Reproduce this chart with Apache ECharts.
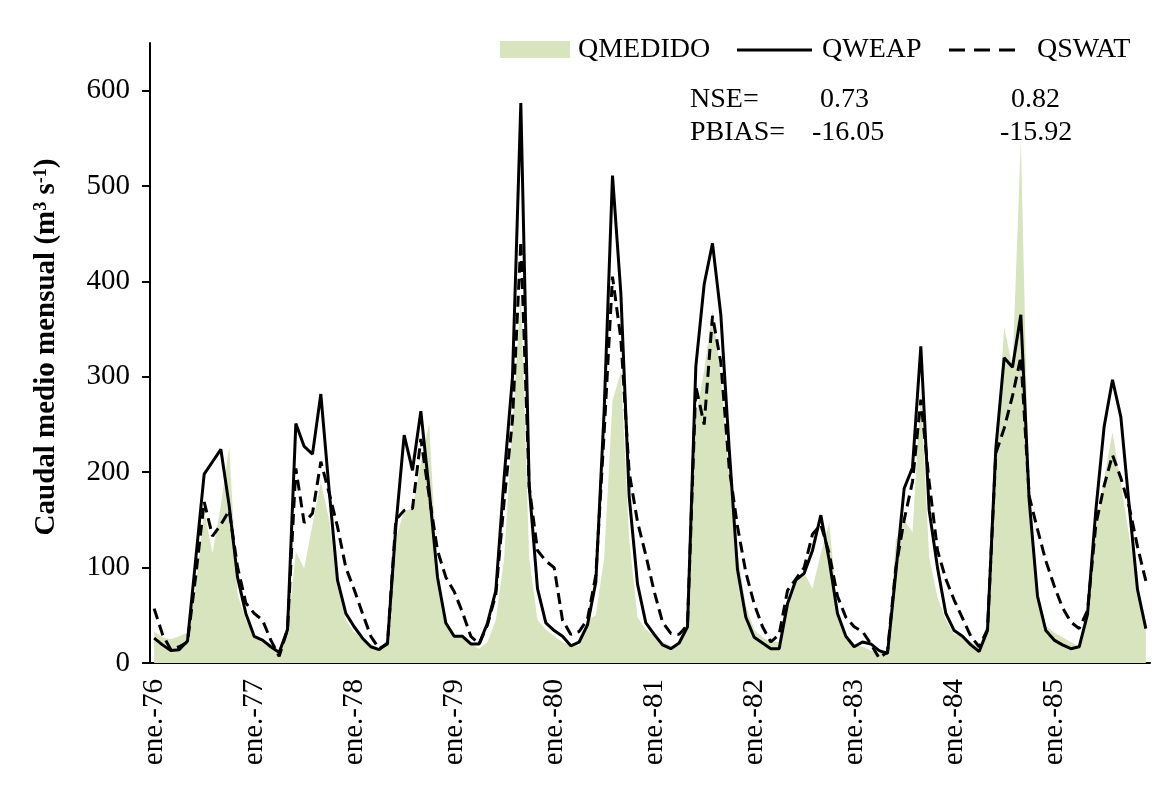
<!DOCTYPE html>
<html>
<head>
<meta charset="utf-8">
<script src="https://cdn.jsdelivr.net/npm/echarts@6/dist/echarts.min.js"></script>
<style>
  html, body { margin: 0; padding: 0; background: #ffffff; }
  #chart { width: 1166px; height: 810px; }
</style>
</head>
<body>
<div id="chart"></div>
<script>
// ---- data ----
const months = ['ene.', 'feb.', 'mar.', 'abr.', 'may.', 'jun.', 'jul.', 'ago.', 'sep.', 'oct.', 'nov.', 'dic.'];
const years = ['76', '77', '78', '79', '80', '81', '82', '83', '84', '85'];
const yTicks = [0, 100, 200, 300, 400, 500, 600];
const seriesNames = ['QMEDIDO', 'QWEAP', 'QSWAT'];

const qmedido = [
  33, 27, 25, 28, 32, 80, 160, 115, 165, 227, 72, 45,
  28, 22, 18, 10, 30, 117, 99, 145, 190, 150, 80, 45,
  32, 26, 20, 15, 20, 130, 160, 162, 210, 251, 90, 45,
  30, 26, 20, 15, 22, 45, 110, 250, 385, 110, 45, 35,
  28, 22, 18, 18, 45, 50, 110, 275, 305, 130, 48, 35,
  28, 22, 18, 18, 40, 258, 307, 370, 300, 195, 115, 60,
  35, 27, 22, 22, 59, 90, 94, 78, 115, 147, 56, 30,
  20, 17, 13, 10, 12, 129, 150, 137, 285, 111, 69, 45,
  30, 28, 22, 17, 43, 220, 352, 310, 548, 165, 78, 39,
  32, 27, 22, 17, 51, 137, 194, 242, 189, 133, 78, 36
];
const qweap = [
  26, 19, 13, 14, 23, 110, 198, 211, 224, 165, 90, 52,
  28, 24, 17, 11, 35, 251, 227, 219, 282, 181, 87, 52,
  38, 26, 17, 14, 21, 143, 239, 202, 264, 181, 90, 42,
  28, 28, 20, 20, 42, 76, 195, 300, 587, 186, 78, 42,
  34, 28, 18, 22, 40, 85, 265, 511, 388, 175, 83, 42,
  30, 19, 15, 21, 38, 311, 397, 440, 365, 225, 98, 48,
  27, 21, 15, 15, 62, 87, 94, 118, 155, 108, 52, 28,
  17, 22, 20, 13, 10, 95, 183, 205, 332, 160, 100, 52,
  34, 28, 19, 12, 34, 225, 320, 310, 365, 171, 70, 34,
  24, 19, 15, 17, 51, 160, 248, 297, 258, 165, 77, 36
];
const qswat = [
  57, 30, 14, 17, 22, 92, 169, 133, 145, 160, 101, 63,
  52, 45, 24, 7, 35, 204, 147, 157, 211, 178, 143, 100,
  77, 52, 28, 15, 20, 150, 160, 162, 235, 175, 118, 90,
  75, 53, 28, 20, 40, 72, 170, 255, 442, 185, 118, 107,
  100, 45, 30, 33, 46, 92, 242, 405, 340, 200, 148, 113,
  75, 43, 31, 30, 40, 290, 250, 364, 315, 205, 143, 95,
  62, 38, 22, 30, 76, 88, 100, 135, 145, 115, 70, 48,
  38, 33, 20, 5, 12, 100, 150, 190, 276, 190, 118, 88,
  66, 47, 28, 17, 35, 220, 246, 280, 321, 175, 140, 107,
  81, 58, 43, 36, 55, 145, 186, 218, 194, 164, 122, 86
];

const nseLabel = 'NSE=';
const pbiasLabel = 'PBIAS=';
const nseValues = ['0.73', '0.82'];
const pbiasValues = ['-16.05', '-15.92'];

const categories = [];
years.forEach(y => months.forEach(m => categories.push(m + '-' + y)));

// ---- chart ----
const FONT = '"Liberation Serif", "Times New Roman", serif';
const GREEN = '#d7e4bd';
const chart = echarts.init(document.getElementById('chart'), null, { renderer: 'canvas' });

function txt(x, y, s, size) {
  return { type: 'text', x: x, y: y, z: 10,
    style: { text: s, font: (size || 28) + 'px ' + FONT, fill: '#000', textVerticalAlign: 'middle' } };
}

const option = {
  backgroundColor: '#ffffff',
  animation: false,
  grid: { left: 150, right: 16, top: 43, bottom: 147, containLabel: false },
  xAxis: [
    {
      type: 'category', data: categories, boundaryGap: true,
      axisLine: { lineStyle: { color: '#000', width: 2 } },
      axisTick: { interval: 5, length: 8, lineStyle: { color: '#000', width: 2 } },
      axisLabel: { interval: 11, rotate: 90, margin: 16, fontFamily: FONT, fontSize: 29, color: '#000' },
      splitLine: { show: false }
    },
    {
      type: 'category', data: categories, boundaryGap: true, position: 'bottom', offset: 0,
      axisLine: { show: false },
      axisTick: { inside: true, interval: 5, length: 7, lineStyle: { color: '#000', width: 2 } },
      axisLabel: { show: false },
      splitLine: { show: false }
    }
  ],
  yAxis: {
    type: 'value', min: 0, max: 650,
    axisLine: { show: true, lineStyle: { color: '#000', width: 2 } },
    axisTick: { show: true, length: 8, customValues: yTicks, lineStyle: { color: '#000', width: 2 } },
    axisLabel: { customValues: yTicks, margin: 20, fontFamily: FONT, fontSize: 29, color: '#000' },
    splitLine: { show: false }
  },
  series: [
    {
      name: seriesNames[0], type: 'line', data: qmedido, symbol: 'none', z: 1,
      lineStyle: { width: 0, color: GREEN },
      itemStyle: { color: GREEN },
      areaStyle: { color: GREEN, opacity: 1 }
    },
    {
      name: seriesNames[1], type: 'line', data: qweap, symbol: 'none', z: 3,
      itemStyle: { color: '#000' },
      lineStyle: { color: '#000', width: 3 }
    },
    {
      name: seriesNames[2], type: 'line', data: qswat, symbol: 'none', z: 2,
      itemStyle: { color: '#000' },
      lineStyle: { color: '#000', width: 3, type: [11, 6] }
    }
  ],
  graphic: [
    {
      type: 'text', x: 47, y: 347, rotation: Math.PI / 2,
      style: {
        text: '{a|Caudal medio mensual (m}{s|3}{a| s}{s|-1}{a|)}',
        textAlign: 'center', textVerticalAlign: 'middle',
        rich: {
          a: { fontFamily: FONT, fontSize: 29, fontWeight: 'bold', fill: '#000' },
          s: { fontFamily: FONT, fontSize: 18, fontWeight: 'bold', fill: '#000', verticalAlign: 'top' }
        }
      }
    },
    // legend
    { type: 'rect', shape: { x: 500, y: 41, width: 70, height: 17 }, style: { fill: GREEN }, z: 10 },
    txt(578, 50, seriesNames[0]),
    { type: 'line', shape: { x1: 737, y1: 50, x2: 812, y2: 50 }, style: { stroke: '#000', lineWidth: 3 }, z: 10 },
    txt(822, 50, seriesNames[1]),
    { type: 'line', shape: { x1: 949, y1: 50, x2: 1015, y2: 50 }, style: { stroke: '#000', lineWidth: 3, lineDash: [16, 9] }, z: 10 },
    txt(1037, 50, seriesNames[2]),
    // statistics
    txt(690, 100, nseLabel),
    txt(820, 100, nseValues[0]),
    txt(1011, 100, nseValues[1]),
    txt(690, 133, pbiasLabel),
    txt(812, 133, pbiasValues[0]),
    txt(1000, 133, pbiasValues[1])
  ]
};
chart.setOption(option);
</script>
</body>
</html>
